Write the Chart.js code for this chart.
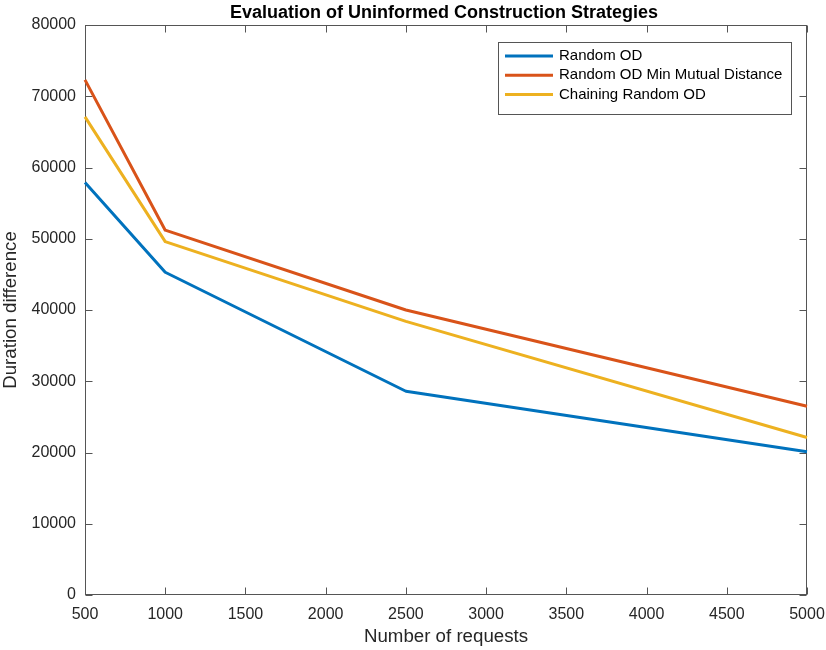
<!DOCTYPE html>
<html>
<head>
<meta charset="utf-8">
<script src="https://cdn.jsdelivr.net/npm/chart.js@4/dist/chart.umd.min.js"></script>
<style>
  html, body { margin: 0; padding: 0; background: #fff; }
  #wrap { width: 826px; height: 650px; }
</style>
</head>
<body>
<div id="wrap"><canvas id="c" width="826" height="650"></canvas></div>
<script>
// Number of requests on the x axis
const requests = [500, 1000, 2500, 5000];

// Duration difference per construction strategy
const randomOD = [57900, 45300, 28600, 20100];
const randomODMinMutual = [72300, 51200, 40000, 26500];
const chainingRandomOD = [67100, 49600, 38400, 22100];

const seriesLabels = ['Random OD', 'Random OD Min Mutual Distance', 'Chaining Random OD'];
const seriesColors = ['#0072BD', '#D95319', '#EDB120'];

const chartTitle = 'Evaluation of Uninformed Construction Strategies';
const xTitle = 'Number of requests';
const yTitle = 'Duration difference';

const FONT = '"Liberation Sans", Arial, Helvetica, sans-serif';
const AXIS_COLOR = '#262626';
const BOX_COLOR = '#555555';

const toPoints = (ys) => requests.map((x, i) => ({ x, y: ys[i] }));
const plainNumber = (v) => String(v);

// Axes box, inward tick marks on all four sides, title and boxed legend
const matlabFrame = {
  id: 'matlabFrame',
  beforeDatasetsDraw(chart) {
    const { ctx, chartArea: a, scales } = chart;
    ctx.save();
    ctx.strokeStyle = BOX_COLOR;
    ctx.lineWidth = 1;
    const L = Math.round(a.left) + 0.5, R = Math.round(a.right) - 0.5;
    const T = Math.round(a.top) + 0.5, B = Math.round(a.bottom) - 0.5;
    ctx.strokeRect(L, T, R - L, B - T);
    const tl = 7;
    ctx.beginPath();
    scales.x.ticks.forEach(t => {
      const px = Math.round(scales.x.getPixelForValue(t.value)) + 0.5;
      ctx.moveTo(px, B); ctx.lineTo(px, B - tl);
      ctx.moveTo(px, T); ctx.lineTo(px, T + tl);
    });
    scales.y.ticks.forEach(t => {
      const py = Math.round(scales.y.getPixelForValue(t.value)) + 0.5;
      ctx.moveTo(L, py); ctx.lineTo(L + tl, py);
      ctx.moveTo(R, py); ctx.lineTo(R - tl, py);
    });
    ctx.stroke();
    ctx.restore();
  },
  afterDraw(chart) {
    const { ctx, chartArea: a } = chart;
    ctx.save();
    // title
    ctx.fillStyle = '#000';
    ctx.font = 'bold 18px ' + FONT;
    ctx.textAlign = 'center';
    ctx.textBaseline = 'middle';
    ctx.fillText(chartTitle, (a.left + a.right) / 2 - 2, 13);

    // legend
    const bx = 498.5, by = 42.5, bw = 293, bh = 72;
    ctx.fillStyle = '#fff';
    ctx.fillRect(bx, by, bw, bh);
    ctx.strokeStyle = BOX_COLOR;
    ctx.lineWidth = 1;
    ctx.strokeRect(bx, by, bw, bh);
    ctx.font = '15px ' + FONT;
    ctx.textAlign = 'left';
    ctx.textBaseline = 'middle';
    chart.data.datasets.forEach((ds, i) => {
      const y = 56 + i * 19.3;
      ctx.strokeStyle = ds.borderColor;
      ctx.lineWidth = 3;
      ctx.beginPath();
      ctx.moveTo(505, y); ctx.lineTo(553, y);
      ctx.stroke();
      ctx.fillStyle = '#000';
      ctx.fillText(ds.label, 559, y);
    });
    ctx.restore();
  }
};

new Chart(document.getElementById('c'), {
  type: 'line',
  data: {
    datasets: [
      { label: seriesLabels[0], data: toPoints(randomOD), borderColor: seriesColors[0] },
      { label: seriesLabels[1], data: toPoints(randomODMinMutual), borderColor: seriesColors[1] },
      { label: seriesLabels[2], data: toPoints(chainingRandomOD), borderColor: seriesColors[2] }
    ].map(d => Object.assign(d, {
      borderWidth: 3, pointRadius: 0, fill: false, tension: 0, clip: false,
      borderJoinStyle: 'round', borderCapStyle: 'butt', backgroundColor: d.borderColor
    }))
  },
  options: {
    responsive: false,
    animation: false,
    devicePixelRatio: 1,
    layout: { padding: { top: 25, right: 19, bottom: 0, left: 0 } },
    plugins: {
      legend: { display: false },
      title: { display: false },
      tooltip: { enabled: false }
    },
    scales: {
      x: {
        type: 'linear',
        min: 500, max: 5000,
        ticks: { stepSize: 500, callback: plainNumber, color: AXIS_COLOR, font: { size: 16, family: FONT }, padding: 10, maxRotation: 0, autoSkip: false },
        grid: { display: false, drawTicks: false },
        border: { display: false },
        title: { display: true, text: xTitle, color: AXIS_COLOR, font: { size: 18.7, family: FONT, lineHeight: 1 }, padding: { top: 0, bottom: 4 } },
        afterFit(s) { s.height = 55; s.paddingLeft = 0; s.paddingRight = 0; }
      },
      y: {
        type: 'linear',
        min: 0, max: 80000,
        ticks: { stepSize: 10000, callback: plainNumber, color: AXIS_COLOR, font: { size: 16, family: FONT }, padding: 9 },
        grid: { display: false, drawTicks: false },
        border: { display: false },
        title: { display: true, text: yTitle, color: AXIS_COLOR, font: { size: 18.7, family: FONT, lineHeight: 1 }, padding: { top: 2, bottom: 0 } },
        afterFit(s) { s.width = 85; s.paddingTop = 0; s.paddingBottom = 0; }
      }
    }
  },
  plugins: [matlabFrame]
});
</script>
</body>
</html>
